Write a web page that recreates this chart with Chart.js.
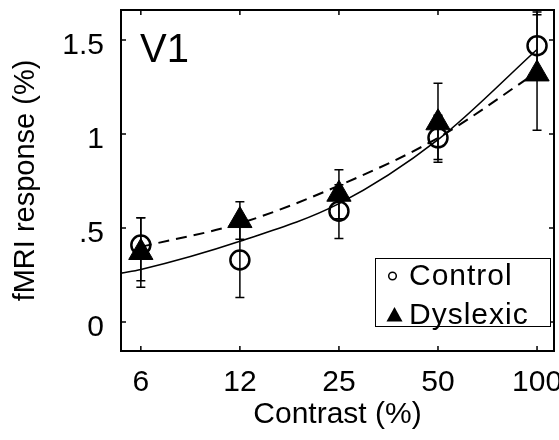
<!DOCTYPE html>
<html>
<head>
<meta charset="utf-8">
<script src="https://cdn.jsdelivr.net/npm/chart.js@4.4.1/dist/chart.umd.min.js"></script>
<style>
  html, body { margin: 0; padding: 0; background: #fff; }
</style>
</head>
<body>
<canvas id="chart" width="559" height="440"></canvas>
<script>
// contrast levels (%), labelled as in the figure
const contrast = [6.25, 12.5, 25, 50, 100];
const xTickLabels = ["6", "12", "25", "50", "100"];
const yTickValues = [0, 0.5, 1, 1.5];
const yTickLabels = ["0", ".5", "1", "1.5"];

// group means and error bar ends (fMRI response, %)
const controlMean = [0.41, 0.33, 0.59, 0.98, 1.47];
const controlLow = [0.22, 0.13, 0.445, 0.865, 1.29];
const controlHigh = [0.555, 0.53, 0.73, 1.10, 1.65];
const dyslexicMean = [0.37, 0.54, 0.68, 1.06, 1.32];
const dyslexicLow = [0.185, 0.44, 0.55, 0.85, 1.02];
const dyslexicHigh = [0.555, 0.64, 0.81, 1.27, 1.635];

// fitted curves
const controlFitX = [5.44, 6.25, 12.5, 25, 50, 100];
const controlFitY = [0.26, 0.28, 0.43, 0.63, 0.97, 1.45];
const dyslexicFitX = [6.25, 12.5, 25, 50, 100];
const dyslexicFitY = [0.40, 0.525, 0.726, 0.98, 1.33];

const FONT = '"Liberation Sans", Arial, Helvetica, sans-serif';
Chart.defaults.font.family = FONT;
Chart.defaults.color = "#000";

const toPoints = (xs, ys) => xs.map((x, i) => ({ x: x, y: ys[i] }));

// keep the plot box where the figure has it, whatever the label sizes
function noScalePadding(s) {
  s.paddingLeft = 0;
  s.paddingRight = 0;
  s.paddingTop = 0;
  s.paddingBottom = 0;
}

const errorBars = {
  id: "errorBars",
  beforeDatasetsDraw(chart) {
    const { ctx, scales: { x, y } } = chart;
    ctx.save();
    ctx.strokeStyle = "#000";
    ctx.lineWidth = 1.5;
    [[controlLow, controlHigh], [dyslexicLow, dyslexicHigh]].forEach(([lo, hi]) => {
      contrast.forEach((c, i) => {
        const px = x.getPixelForValue(c);
        const y1 = y.getPixelForValue(lo[i]);
        const y2 = y.getPixelForValue(hi[i]);
        ctx.beginPath();
        ctx.moveTo(px, y1); ctx.lineTo(px, y2);
        ctx.moveTo(px - 4.5, y1); ctx.lineTo(px + 4.5, y1);
        ctx.moveTo(px - 4.5, y2); ctx.lineTo(px + 4.5, y2);
        ctx.stroke();
      });
    });
    ctx.restore();
  }
};

const frame = {
  id: "frame",
  afterDraw(chart) {
    const { ctx, chartArea: a, scales: { x, y } } = chart;
    ctx.save();
    ctx.strokeStyle = "#000";
    // inward ticks on all four sides
    ctx.lineWidth = 1.5;
    ctx.beginPath();
    x.ticks.forEach(t => {
      const px = x.getPixelForValue(t.value);
      ctx.moveTo(px, a.bottom); ctx.lineTo(px, a.bottom - 5);
      ctx.moveTo(px, a.top); ctx.lineTo(px, a.top + 5);
    });
    y.ticks.forEach(t => {
      const py = y.getPixelForValue(t.value);
      ctx.moveTo(a.left, py); ctx.lineTo(a.left + 5, py);
      ctx.moveTo(a.right, py); ctx.lineTo(a.right - 5, py);
    });
    ctx.stroke();
    ctx.lineWidth = 2;
    ctx.strokeRect(a.left, a.top, a.right - a.left, a.bottom - a.top);

    // panel label
    ctx.fillStyle = "#000";
    ctx.font = "40px " + FONT;
    ctx.textBaseline = "alphabetic";
    ctx.fillText("V1", a.left + 19, a.top + 52);

    // legend box
    const bx = a.right - 179, by = a.bottom - 93, bw = 175, bh = 68;
    ctx.fillStyle = "#fff";
    ctx.fillRect(bx, by, bw, bh);
    ctx.lineWidth = 1;
    ctx.strokeRect(bx + 0.5, by + 0.5, bw, bh);
    ctx.fillStyle = "#000";
    ctx.lineWidth = 1.5;
    ctx.beginPath();
    ctx.arc(bx + 17.5, by + 18, 3.8, 0, Math.PI * 2);
    ctx.stroke();
    ctx.beginPath();
    ctx.moveTo(bx + 19.5, by + 49);
    ctx.lineTo(bx + 27.5, by + 63.5);
    ctx.lineTo(bx + 11.5, by + 63.5);
    ctx.closePath();
    ctx.fill();
    ctx.font = "30px " + FONT;
    ctx.letterSpacing = "1px";
    ctx.fillText("Control", bx + 34, by + 27);
    ctx.fillText("Dyslexic", bx + 34, by + 66);
    ctx.restore();
  }
};

new Chart(document.getElementById("chart"), {
  type: "scatter",
  data: {
    datasets: [
      {
        label: "Control",
        data: toPoints(contrast, controlMean),
        pointStyle: "circle",
        pointRadius: 9.5,
        pointBorderWidth: 2.5,
        pointBackgroundColor: "rgba(0,0,0,0)",
        pointBorderColor: "#000"
      },
      {
        label: "Dyslexic",
        data: toPoints(contrast, dyslexicMean),
        pointStyle: "triangle",
        pointRadius: 14,
        pointBorderWidth: 1,
        pointBackgroundColor: "#000",
        pointBorderColor: "#000"
      },
      {
        label: "Control fit",
        data: toPoints(controlFitX, controlFitY),
        showLine: true,
        borderColor: "#000",
        borderWidth: 1.6,
        pointRadius: 0,
        cubicInterpolationMode: "monotone",
        fill: false
      },
      {
        label: "Dyslexic fit",
        data: toPoints(dyslexicFitX, dyslexicFitY),
        showLine: true,
        borderColor: "#000",
        borderWidth: 2,
        borderDash: [11, 7],
        pointRadius: 0,
        cubicInterpolationMode: "monotone",
        fill: false
      }
    ]
  },
  options: {
    responsive: false,
    animation: false,
    events: [],
    layout: { autoPadding: false, padding: { top: 10, right: 5, bottom: 0, left: 0 } },
    plugins: {
      legend: { display: false },
      tooltip: { enabled: false }
    },
    scales: {
      x: {
        type: "logarithmic",
        min: 5.44,
        max: 112.6,
        afterBuildTicks: s => { s.ticks = contrast.map(v => ({ value: v })); },
        afterFit: s => { s.height = 89; noScalePadding(s); },
        ticks: {
          callback: (v, i) => xTickLabels[i],
          autoSkip: false,
          maxRotation: 0,
          padding: 14,
          color: "#000",
          font: { size: 30 }
        },
        grid: { display: false, drawTicks: false },
        border: { display: false },
        title: {
          display: true,
          text: "Contrast (%)",
          color: "#000",
          font: { size: 30, lineHeight: 1 },
          padding: { top: 0, bottom: 10 }
        }
      },
      y: {
        type: "linear",
        min: -0.154,
        max: 1.66,
        afterBuildTicks: s => { s.ticks = yTickValues.map(v => ({ value: v })); },
        afterFit: s => { s.width = 121; noScalePadding(s); },
        ticks: {
          callback: (v, i) => yTickLabels[i],
          padding: 17,
          labelOffset: 6,
          color: "#000",
          font: { size: 30 }
        },
        grid: { display: false, drawTicks: false },
        border: { display: false },
        title: {
          display: true,
          text: "fMRI response (%)",
          color: "#000",
          font: { size: 29, lineHeight: 1 },
          padding: { top: 11, bottom: 0 }
        }
      }
    }
  },
  plugins: [errorBars, frame]
});
</script>
</body>
</html>
